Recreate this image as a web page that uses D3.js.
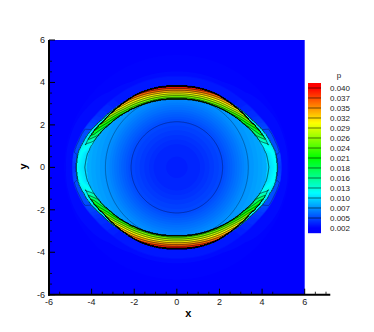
<!DOCTYPE html>
<html><head><meta charset="utf-8">
<script src="https://cdn.jsdelivr.net/npm/d3@7"></script>
<style>html,body{margin:0;padding:0;background:#fff}svg{display:block}text{font-family:"Liberation Sans",Arial,sans-serif}</style>
</head><body><div id="chart"></div>
<script>
// Lens, by polar angle (degrees) in one quadrant
const thetaStations = [0, 9, 15, 22, 33, 48, 62, 76, 90];
const lensOuterR    = [4.72, 4.68, 4.56, 4.42, 4.17, 3.98, 3.92, 3.87, 3.83];
const lensInnerR    = [4.22, 4.21, 4.12, 3.98, 3.75, 3.52, 3.36, 3.27, 3.21];
const cyanStrip     = [0, 0.10, 0.15, 0.14, 0.10, 0.03, 0, 0, 0];
const pAtOuterEdge  = [0.0115, 0.0118, 0.0132, 0.020, 0.026, 0.034, 0.038, 0.0405, 0.041];
const pAtInnerEdge  = [0.0098, 0.0100, 0.0112, 0.015, 0.018, 0.021, 0.022, 0.022, 0.021];
const pOutsideLens  = [0.0040, 0.0049, 0.0049, 0.0049, 0.0038, 0.0030, 0.0028, 0.0028, 0.0028];
const stripP = 0.0108;
// Radial pressure inside the lens
const coreRadii  = [0, 1, 2.15, 3.35, 4.22];
const corePress  = [0.0031, 0.0034, 0.00471, 0.00743, 0.0085];
const ringRadius = 5.3, ringEdgeP = 0.0022, farP = 0.001;
// Legend
const legendLabels = ["0.040","0.037","0.035","0.032","0.029","0.026","0.024","0.021","0.018","0.016","0.013","0.010","0.007","0.005","0.002"];
const contourLevels = [0.00471,0.00743,0.01014,0.01286,0.01557,0.01829,0.021,0.02371,0.02643,0.02914,0.03186,0.03457,0.03729,0.04];
const colorStops = [0.002, 0.0115, 0.021, 0.0305, 0.040];
const colorNames = ["#0000ff", "#00ffff", "#00ff00", "#ffff00", "#ff0000"];
// Axes
const majorTicks = [-6, -4, -2, 0, 2, 4, 6];
const xMinor = [-5.5,-3.5,-3,-2.5,-1.5,-1,-0.5,0.5,1,1.5,2.5,3,3.5,4.5,6.5,7];
const yMinor = [5,4.5,3.5,3,2.5,1.5,1,0.5,-0.5,-1,-1.5,-2.5,-3,-3.5,-5,-5.5];

const W = 374, H = 332;
const x = d3.scaleLinear().domain([-6, 6]).range([49, 304.7]);
const y = d3.scaleLinear().domain([6, -6]).range([40, 294.7]);
const color = d3.scaleLinear().domain(colorStops).range(colorNames).clamp(true);
const stationIndex = d3.scaleLinear().domain(thetaStations).range(d3.range(thetaStations.length));
// Smooth reading of a table between its stations (passes through every read value)
const smoothTable = t => th => {
  const u = stationIndex(th), i = Math.min(Math.floor(u), t.length - 2), f = u - i;
  const a = t[Math.max(i - 1, 0)], b = t[i], c = t[i + 1], d = t[Math.min(i + 2, t.length - 1)];
  return b + 0.5 * f * (c - a + f * (2 * a - 5 * b + 4 * c - d + f * (3 * (b - c) + d - a)));
};
const rOut = smoothTable(lensOuterR);
const rIn  = smoothTable(lensInnerR);
const strip = d3.scaleLinear().domain(thetaStations).range(cyanStrip);
const pOut = d3.scaleLinear().domain(thetaStations).range(pAtOuterEdge);
const pIn  = d3.scaleLinear().domain(thetaStations).range(pAtInnerEdge);
const pSk  = d3.scaleLinear().domain(thetaStations).range(pOutsideLens);
const pCore = d3.scaleLinear().domain(coreRadii).range(corePress);
const fall = d3.scaleLinear().domain([0, 0.3, 0.36, 1]).range([1, 0.95, 0.1, 0]);

function field(px, py) {
  const r = Math.hypot(px, py);
  const th = Math.atan2(Math.abs(py), Math.abs(px)) * 180 / Math.PI;
  const ro = rOut(th), ri = rIn(th), s = strip(th);
  if (r < ri) return pCore(r);
  if (r <= ro - s) return pIn(th) + (r - ri) / (ro - s - ri) * (pOut(th) - pIn(th));
  if (r <= ro) return stripP;
  if (r >= ringRadius) return farP;
  return ringEdgeP + (pSk(th) - ringEdgeP) * fall((r - ro) / (ringRadius - ro));
}

const n = 512;
const gx = d3.scaleLinear().domain([0, n - 1]).range([-6, 6]);
const gy = d3.scaleLinear().domain([0, n - 1]).range([6, -6]);
const values = new Float64Array(n * n);
for (let j = 0; j < n; j++) for (let i = 0; i < n; i++) values[j * n + i] = field(gx(i), gy(j));

const svg = d3.select("#chart").append("svg").attr("width", W).attr("height", H);
svg.append("rect").attr("width", W).attr("height", H).attr("fill", "#fff");
svg.append("rect").attr("x", x(-6)).attr("y", y(6)).attr("width", x(6) - x(-6)).attr("height", y(-6) - y(6)).attr("fill", color(0.001));

const sx = d3.scaleLinear().domain([0.5, n - 0.5]).range([x(-6), x(6)]);
const sy = d3.scaleLinear().domain([0.5, n - 0.5]).range([y(6), y(-6)]);
const path = d3.geoPath(d3.geoTransform({ point(a, b) { this.stream.point(sx(a), sy(b)); } }));
const fillStep = 0.00025;
const fillLevels = d3.range(0.002, 0.0415, fillStep);
const contours = d3.contours().size([n, n]);
const gField = svg.append("g");
gField.selectAll("path").data(contours.thresholds(fillLevels)(values)).join("path")
  .attr("d", path).attr("fill", d => color(d.value + fillStep / 2));
const gLines = svg.append("g").attr("fill", "none").attr("stroke", "#000");
gLines.selectAll("path").data(contours.thresholds(contourLevels)(values)).join("path").attr("d", path)
  .attr("stroke-width", d => d.value < 0.008 ? 0.5 : 0.7)
  .attr("stroke-opacity", d => d.value < 0.008 ? 0.6 : 0.85);

// Axes
const axis = svg.append("g").attr("stroke", "#000");
axis.append("line").attr("x1", x(-6)).attr("x2", x(-6)).attr("y1", y(6)).attr("y2", y(-6) + 1).attr("stroke-width", 2);
axis.append("line").attr("x1", x(-6) - 1).attr("x2", x(7.2)).attr("y1", y(-6)).attr("y2", y(-6)).attr("stroke-width", 2);
axis.selectAll(".xM").data(majorTicks).join("line").attr("x1", x).attr("x2", x).attr("y1", y(-6)).attr("y2", y(-6) - 6);
axis.selectAll(".xm").data(xMinor).join("line").attr("x1", x).attr("x2", x).attr("y1", y(-6)).attr("y2", y(-6) - 3).attr("stroke-width", 0.8);
axis.selectAll(".yM").data(majorTicks).join("line").attr("x1", x(-6)).attr("x2", x(-6) + 6).attr("y1", y).attr("y2", y);
axis.selectAll(".ym").data(yMinor).join("line").attr("x1", x(-6)).attr("x2", x(-6) + 3).attr("y1", y).attr("y2", y).attr("stroke-width", 0.8);

const fmt = d => String(d).replace("\u2212", "-");
svg.append("g").selectAll("text").data(majorTicks).join("text")
  .attr("x", x).attr("y", y(-6) + 10.5).attr("text-anchor", "middle").attr("font-size", 9).attr("fill", "#222").text(fmt);
svg.append("g").selectAll("text").data(majorTicks).join("text")
  .attr("x", 45).attr("y", d => y(d) + 3).attr("text-anchor", "end").attr("font-size", 9).attr("fill", "#222").text(fmt);
svg.append("text").attr("x", x(0) + 11.5).attr("y", 316.5).attr("text-anchor", "middle").attr("font-size", 11).attr("font-weight", "bold").text("x");
svg.append("text").attr("transform", `translate(27,${y(0) - 1}) rotate(-90)`).attr("text-anchor", "middle").attr("font-size", 11).attr("font-weight", "bold").text("y");

// Legend
const ly = d3.scaleLinear().domain([0.002, 0.040]).range([228, 88]);
const barPx = d3.range(83, 233);
svg.append("g").selectAll("rect").data(barPx).join("rect")
  .attr("x", 308).attr("y", d => d).attr("width", 13).attr("height", 1.2).attr("fill", d => color(ly.invert(d + 0.5)));
svg.append("g").attr("stroke", "#000").attr("stroke-width", 0.7).attr("stroke-opacity", 0.8).selectAll("line").data(contourLevels).join("line")
  .attr("x1", 308).attr("x2", 321).attr("y1", ly).attr("y2", ly);
svg.append("g").selectAll("text").data(legendLabels).join("text")
  .attr("x", 330).attr("y", (d, i) => ly(0.040) + i * (ly(0.002) - ly(0.040)) / 14 + 3)
  .attr("font-size", 8).attr("fill", "#222").text(d => d);
svg.append("text").attr("x", 339).attr("y", 78).attr("text-anchor", "middle").attr("font-size", 8).attr("fill", "#222").text("p");
</script></body></html>
